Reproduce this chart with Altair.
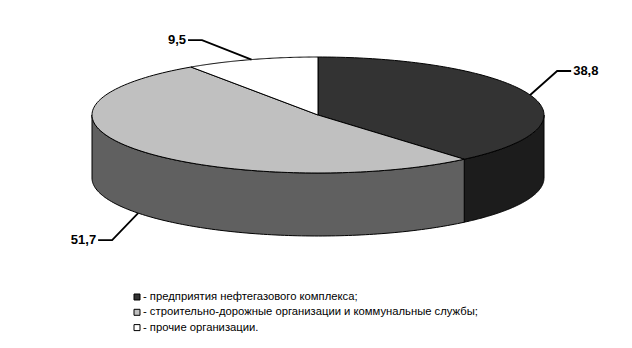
import altair as alt
import pandas as pd

# ---- data ----
CATEGORIES = [
    "предприятия нефтегазового комплекса",
    "строительно-дорожные организации и коммунальные службы",
    "прочие организации",
]
VALUES = [38.8, 51.7, 9.5]
VALUE_LABELS = ["38,8", "51,7", "9,5"]
LEGEND_LABELS = [
    "- предприятия нефтегазового комплекса;",
    "- строительно-дорожные организации и коммунальные службы;",
    "- прочие организации.",
]

# ---- styles / layout (pixels) ----
TOP_COLORS = ["#333333", "#c0c0c0", "#ffffff"]
SIDE_COLORS = ["#1c1c1c", "#606060", "#e6e6e6"]
LEADER_DX = [27, -26, -49.5]
LEADER_DY = [-24, 27, -19.5]
LEADER_HX = [14, -14, -14]

W, H = 632, 348
CX, CY, RX, RY, DEPTH = 318, 115, 226, 58, 63
N = 120
TAU = "6.283185307179586"
LEG_X, LEG_Y0, LEG_STEP = 137, 297, 15.3

df = pd.DataFrame({
    "cat": CATEGORIES,
    "value": VALUES,
    "label": VALUE_LABELS,
    "legend": LEGEND_LABELS,
    "top": TOP_COLORS,
    "side": SIDE_COLORS,
    "ord": list(range(len(VALUES))),
    "ldx": LEADER_DX,
    "ldy": LEADER_DY,
    "lhx": LEADER_HX,
})

X = alt.X("x:Q", scale=alt.Scale(domain=[0, W], nice=False, zero=False), axis=None)
Y = alt.Y("y:Q", scale=alt.Scale(domain=[0, H], nice=False, zero=False, reverse=True), axis=None)

base = (
    alt.Chart(df)
    .transform_joinaggregate(total="sum(value)")
    .transform_window(cum="sum(value)", sort=[alt.SortField("ord")], frame=[None, 0])
    .transform_calculate(s1="datum.cum / datum.total")
    .transform_calculate(s0="(datum.cum - datum.value) / datum.total")
)

# --- side walls (front half only) ---
sides = (
    base.transform_calculate(lo="max(datum.s0, 0.25)")
    .transform_calculate(hi="min(datum.s1, 0.75)")
    .transform_filter("datum.lo < datum.hi")
    .transform_calculate(idx=f"sequence(0, {2 * N + 3})")
    .transform_flatten(["idx"])
    .transform_calculate(
        j=f"datum.idx <= {N} ? datum.idx : (datum.idx <= {2 * N + 1} ? {2 * N + 1} - datum.idx : 0)"
    )
    .transform_calculate(dz=f"(datum.idx > {N} && datum.idx <= {2 * N + 1}) ? {DEPTH} : 0")
    .transform_calculate(f=f"datum.lo + (datum.hi - datum.lo) * datum.j / {N}")
    .transform_calculate(x=f"{CX} + {RX} * sin({TAU} * datum.f)")
    .transform_calculate(y=f"{CY} - {RY} * cos({TAU} * datum.f) + datum.dz")
    .mark_line(stroke="black", strokeWidth=1, strokeJoin="round")
    .encode(x=X, y=Y, order="idx:Q", detail="cat:N", fill=alt.Fill("side:N", scale=None))
)

# --- top faces ---
tops = (
    base.transform_calculate(idx=f"sequence(0, {N + 3})")
    .transform_flatten(["idx"])
    .transform_calculate(f=f"datum.s0 + (datum.s1 - datum.s0) * max(0, min({N}, datum.idx - 1)) / {N}")
    .transform_calculate(r=f"(datum.idx == 0 || datum.idx == {N + 2}) ? 0 : 1")
    .transform_calculate(x=f"{CX} + datum.r * {RX} * sin({TAU} * datum.f)")
    .transform_calculate(y=f"{CY} - datum.r * {RY} * cos({TAU} * datum.f)")
    .mark_line(stroke="black", strokeWidth=1, strokeJoin="round")
    .encode(x=X, y=Y, order="idx:Q", detail="cat:N", fill=alt.Fill("top:N", scale=None))
)

# --- leader lines & value labels ---
anch = (
    base.transform_calculate(mid="(datum.s0 + datum.s1) / 2")
    .transform_calculate(ax=f"{CX} + {RX} * sin({TAU} * datum.mid)")
    .transform_calculate(
        ay=f"{CY} - {RY} * cos({TAU} * datum.mid) + (cos({TAU} * datum.mid) < 0 ? {DEPTH} : 0)"
    )
)

leaders = (
    anch.transform_calculate(idx="sequence(0, 3)")
    .transform_flatten(["idx"])
    .transform_calculate(
        x="datum.idx == 0 ? datum.ax : (datum.idx == 1 ? datum.ax + datum.ldx : datum.ax + datum.ldx + datum.lhx)"
    )
    .transform_calculate(y="datum.idx == 0 ? datum.ay : datum.ay + datum.ldy")
    .mark_line(stroke="black", strokeWidth=1.8)
    .encode(x=X, y=Y, order="idx:Q", detail="cat:N")
)

lab = (
    anch.transform_calculate(x="datum.ax + datum.ldx + datum.lhx + (datum.lhx > 0 ? 2 : -2)")
    .transform_calculate(y="datum.ay + datum.ldy")
)
labels_r = lab.transform_filter("datum.lhx > 0").mark_text(
    align="left", baseline="middle", font="Liberation Sans", fontSize=13, fontWeight="bold", color="black"
).encode(x=X, y=Y, text="label:N")
labels_l = lab.transform_filter("datum.lhx < 0").mark_text(
    align="right", baseline="middle", font="Liberation Sans", fontSize=13, fontWeight="bold", color="black"
).encode(x=X, y=Y, text="label:N")

# --- legend ---
leg = alt.Chart(df).transform_calculate(y=f"{LEG_Y0} + {LEG_STEP} * datum.ord")
leg_sq = leg.mark_square(size=36, stroke="black", strokeWidth=1, opacity=1).encode(
    x=alt.value(LEG_X), y=Y, fill=alt.Fill("top:N", scale=None)
)
leg_txt = leg.mark_text(
    align="left", baseline="middle", font="Liberation Sans", fontSize=11.25, color="black"
).encode(x=alt.value(LEG_X + 6), y=Y, text="legend:N")

chart = (
    alt.layer(sides, tops, leaders, labels_r, labels_l, leg_sq, leg_txt)
    .properties(width=W, height=H, autosize=alt.AutoSizeParams(type="none"), padding=0, background="white")
    .configure_view(stroke=None)
)

chart.save("out.html", embed_options={"renderer": "svg", "actions": False})
